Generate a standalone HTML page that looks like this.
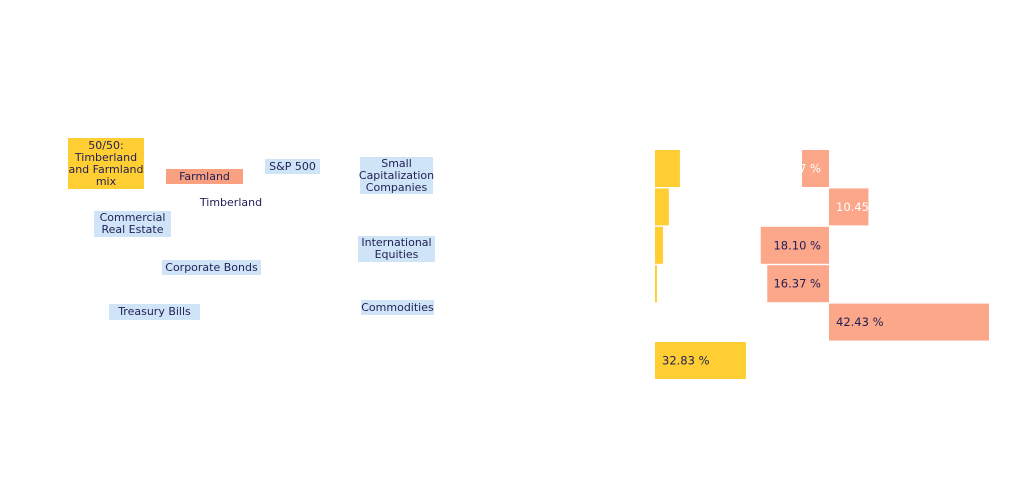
<!DOCTYPE html>
<html><head><meta charset="utf-8">
<style>
body{margin:0;background:#fff;width:1016px;height:502px;overflow:hidden;position:relative;font-family:"DejaVu Sans","Liberation Sans",sans-serif;}
.lb{position:absolute;font-size:11px;color:#1f1f55;text-align:center;line-height:12px;box-sizing:border-box;display:flex;align-items:center;justify-content:center;white-space:nowrap;}
.b{background:#cfe5f7}
</style></head><body>
<div class="lb" style="left:68px;top:138px;width:76px;height:51px;background:#ffce33">50/50:<br>Timberland<br>and Farmland<br>mix</div>
<div class="lb" style="left:166px;top:169px;width:77px;height:15px;background:#f9a080">Farmland</div>
<div class="lb b" style="left:265px;top:159px;width:55px;height:15px">S&amp;P 500</div>
<div class="lb b" style="left:360px;top:157px;width:73px;height:37px">Small<br>Capitalization<br>Companies</div>
<div class="lb" style="left:200px;top:195px;width:62px;height:15px">Timberland</div>
<div class="lb b" style="left:94px;top:211px;width:77px;height:26px">Commercial<br>Real Estate</div>
<div class="lb b" style="left:358px;top:236px;width:77px;height:26px">International<br>Equities</div>
<div class="lb b" style="left:162px;top:260px;width:99px;height:15px">Corporate Bonds</div>
<div class="lb b" style="left:109px;top:304px;width:91px;height:16px">Treasury Bills</div>
<div class="lb b" style="left:361px;top:300px;width:73px;height:15px">Commodities</div>
<svg id="chart" width="1016" height="502" style="position:absolute;left:0;top:0" font-family="DejaVu Sans, Liberation Sans, sans-serif" font-size="11.5"></svg>
<script>
const rows=[0,1,2,3,4,5];
const yellowValues=[9.0,5.0,2.9,0.7,0,32.83];
const pinkValues=[-7.17,10.45,-18.10,-16.37,42.43,0];
const yellowLabels=["","","","","","32.83 %"];
const pinkLabels=["7.17 %","10.45 %","18.10 %","16.37 %","42.43 %",""];
const svg=document.getElementById('chart');
const NS='http://www.w3.org/2000/svg';
const rowY=i=>150+i*38.4, rowH=37;
const yx=v=>655+v*2.77, px=v=>829+v*3.77;
const defs=document.createElementNS(NS,'defs');svg.appendChild(defs);
function bar(x0,x1,i,fill,label,name,neg){
  const x=Math.min(x0,x1),w=Math.abs(x1-x0);if(w<=0)return;
  const r=document.createElementNS(NS,'rect');
  
  
  r.setAttribute('x',x);r.setAttribute('y',rowY(i));r.setAttribute('width',w);r.setAttribute('height',rowH);r.setAttribute('fill',fill);
  svg.appendChild(r);
  if(!label)return;
  const cp=document.createElementNS(NS,'clipPath');cp.id='c'+name;
  const cr=r.cloneNode();cp.appendChild(cr);defs.appendChild(cp);
  const t=document.createElementNS(NS,'text');
  
  
  t.setAttribute('y',rowY(i)+rowH/2+4);
  t.setAttribute('clip-path','url(#c'+name+')');
  const tw=label.length*6.4;
  t.setAttribute('fill',tw>w?'#ffffff':'#1f1f55');
  if(neg){t.setAttribute('x',x+w-8);t.setAttribute('text-anchor','end');}
  else{t.setAttribute('x',x+7);}
  t.textContent=label;svg.appendChild(t);
}
rows.forEach(i=>{
  bar(yx(0),yx(yellowValues[i]),i,'#ffce33',yellowLabels[i],'yellow-bar-'+i,false);
  bar(px(0),px(pinkValues[i]),i,'#fca68a',pinkLabels[i],'pink-bar-'+i,pinkValues[i]<0);
});
</script>
</body></html>
